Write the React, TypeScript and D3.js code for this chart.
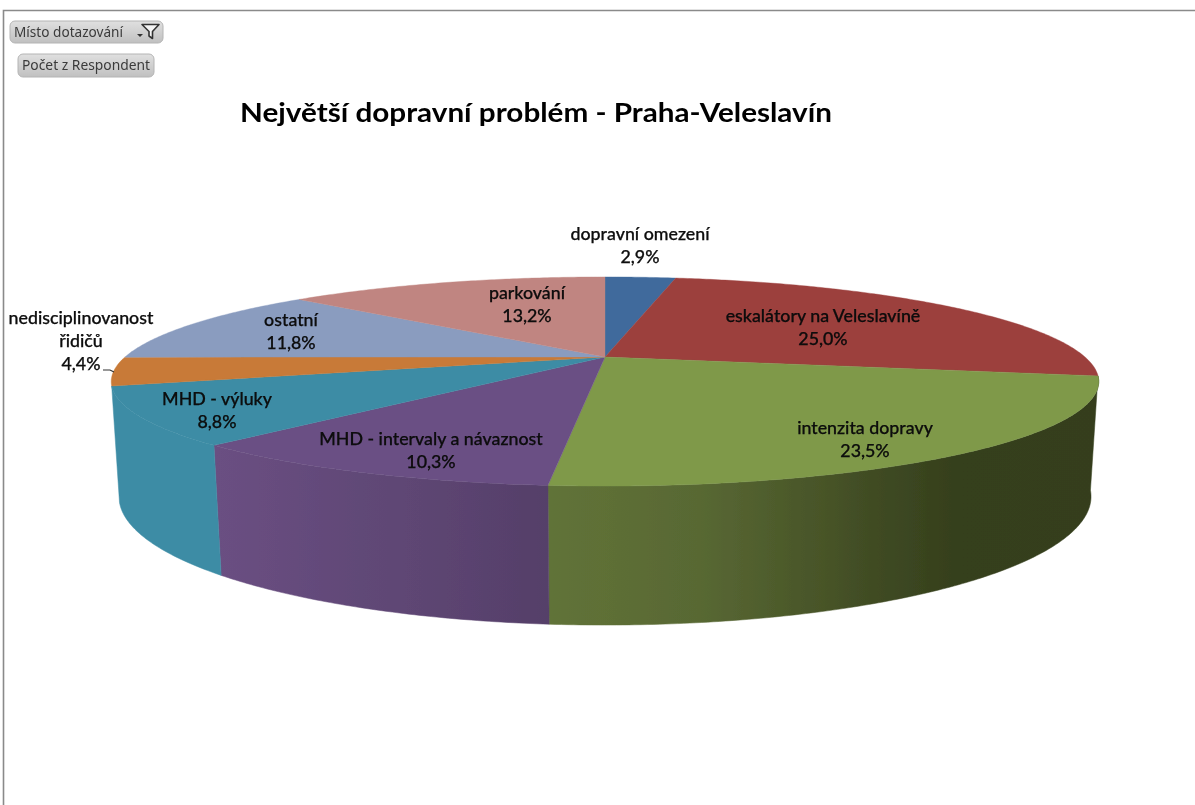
import React from "react";
import * as d3 from "d3";

const categories = ["dopravní omezení", "eskalátory na Veleslavíně", "intenzita dopravy", "MHD - intervaly a návaznost", "MHD - výluky", "nedisciplinovanost řidičů", "ostatní", "parkování"];
const percentages = [2.9, 25.0, 23.5, 10.3, 8.8, 4.4, 11.8, 13.2];
const topColors = ["#3f6a9c", "#9c3f3d", "#7f994a", "#6a5084", "#3c8ca5", "#c87a37", "#8a9cbf", "#c08581"];
const title = "Největší dopravní problém - Praha-Veleslavín";
const fieldButtons = ["Místo dotazování", "Počet z Respondent"];

// layout, separate from the data
const W = 1195, H = 805, CX = 605;
const topDisc = { R: 480, H: 98.8, k: 0.2344, y0: 357 };
const baseDisc = { R: 473, H: 121.7, k: 0.23, y0: 467 };
const labelLines: string[][] = [["dopravní omezení"], ["eskalátory na Veleslavíně"], ["intenzita dopravy"], ["MHD - intervaly a návaznost"], ["MHD - výluky"], ["nedisciplinovanost", "řidičů"], ["ostatní"], ["parkování"]];
const labelAnchors = [[640, 240], [823, 322], [865, 434], [431, 445], [217, 405], [81, 324], [291, 326], [527, 299]];
const sideGradients: Record<number, [number, string][]> = {
  2: [[550, "#617338"], [700, "#586833"], [800, "#4b582a"], [900, "#3c4721"], [960, "#353f1c"], [1100, "#343e1c"]],
  3: [[217, "#6a4f82"], [549, "#553f69"]],
  4: [[112, "#3c8ca5"], [224, "#3c8ca5"]],
};

type Disc = typeof topDisc;
const project = (d: Disc, a: number): [number, number] => {
  const u = Math.sin(a), v = -Math.cos(a), den = 1 - d.k * v;
  return [CX + (d.R * u) / den, d.y0 + (d.H * v) / den];
};
const samples = (a0: number, a1: number) => {
  const n = Math.max(2, Math.ceil((a1 - a0) / 0.01));
  return d3.range(n + 1).map((i) => a0 + ((a1 - a0) * i) / n);
};
const line = d3.line();

const arcs = d3.pie<number>().sort(null).startAngle(0).endAngle(2 * Math.PI)(percentages);

const FONT = "Lato, Carlito, sans-serif";
const pct = (v: number) => v.toFixed(1).replace(".", ",") + "%";

function FieldButton({ x, y, w, h, label, filter }: { x: number; y: number; w: number; h: number; label: string; filter?: boolean }) {
  return (
    <g>
      <rect x={x} y={y} width={w} height={h} rx={5} fill="url(#btn)" stroke="#b4b4b4" strokeWidth={1} />
      <text x={x + 4} y={y + h / 2 + 4.5} fontFamily="'Noto Sans', sans-serif" fontSize={13.5} fill="#3a3a3a" textLength={label.length > 16 ? 128 : 109} lengthAdjust="spacingAndGlyphs">{label}</text>
      {filter && (
        <g>
          <path d="M137,34h6l-3,3z" fill="#333" />
          <path d="M142,24.5h17l-6.5,7v7l-3.5,-2.5v-4.5z" fill="#f4f4f4" stroke="#333" strokeWidth={1.6} strokeLinejoin="round" />
        </g>
      )}
    </g>
  );
}

export default function App() {
  return (
    <svg width={W} height={H} viewBox={`0 0 ${W} ${H}`} style={{ position: "fixed", left: 0, top: 0, display: "block", background: "#fff" }}>
      <defs>
        <linearGradient id="btn" x1="0" y1="0" x2="0" y2="1">
          <stop offset="0" stopColor="#e0e0e0" />
          <stop offset="1" stopColor="#c0c0c0" />
        </linearGradient>
        {Object.entries(sideGradients).map(([i, stops]) => {
          const x0 = stops[0][0], x1 = stops[stops.length - 1][0];
          return (
            <linearGradient key={i} id={`side${i}`} gradientUnits="userSpaceOnUse" x1={x0} x2={x1} y1={0} y2={0}>
              {stops.map(([x, c]) => (
                <stop key={x} offset={(x - x0) / (x1 - x0)} stopColor={c} />
              ))}
            </linearGradient>
          );
        })}
        <filter id="soft" x="-5%" y="-5%" width="110%" height="110%">
          <feGaussianBlur stdDeviation="0.4" />
        </filter>
      </defs>
      <g filter="url(#soft)">
        <path d="M3.5,805V10.5H1195" fill="none" stroke="#8a8a8a" strokeWidth={1.6} />

        <FieldButton x={10} y={21} w={153} h={22} label={fieldButtons[0]} filter />
        <FieldButton x={18} y={54} w={136} h={23} label={fieldButtons[1]} />

        <text x={536} y={122} textAnchor="middle" fontFamily={FONT} fontWeight={700} fontSize={26} fill="#000" textLength={592} lengthAdjust="spacingAndGlyphs">{title}</text>

        {Object.keys(sideGradients).map(Number).map((i) => {
          const as = samples(arcs[i].startAngle, arcs[i].endAngle);
          const pts = [...as.map((a) => project(topDisc, a)), ...as.slice().reverse().map((a) => project(baseDisc, a))];
          return <path key={i} d={line(pts) + "Z"} fill={`url(#side${i})`} stroke={`url(#side${i})`} strokeWidth={0.5} />;
        })}

        {arcs.map((a, i) => {
          const pts: [number, number][] = [[CX, topDisc.y0], ...samples(a.startAngle, a.endAngle).map((t) => project(topDisc, t))];
          return <path key={i} d={line(pts) + "Z"} fill={topColors[i]} stroke={topColors[i]} strokeWidth={0.4} />;
        })}

        <path d={line([[103, 370], [110, 370], [114, 372]]) ?? ""} fill="none" stroke="#333" strokeWidth={1.2} />

        {categories.map((c, i) => {
          const [x, y] = labelAnchors[i];
          const lines = [...labelLines[i], pct(percentages[i])];
          return (
            <text key={c} textAnchor="middle" fontFamily={FONT} fontWeight={500} fontSize={17.8} fill="#0a0a0a" stroke="#0a0a0a" strokeWidth={0.25}>
              {lines.map((l, j) => (
                <tspan key={j} x={x} y={y + j * 23}>{l}</tspan>
              ))}
            </text>
          );
        })}
      </g>
    </svg>
  );
}
